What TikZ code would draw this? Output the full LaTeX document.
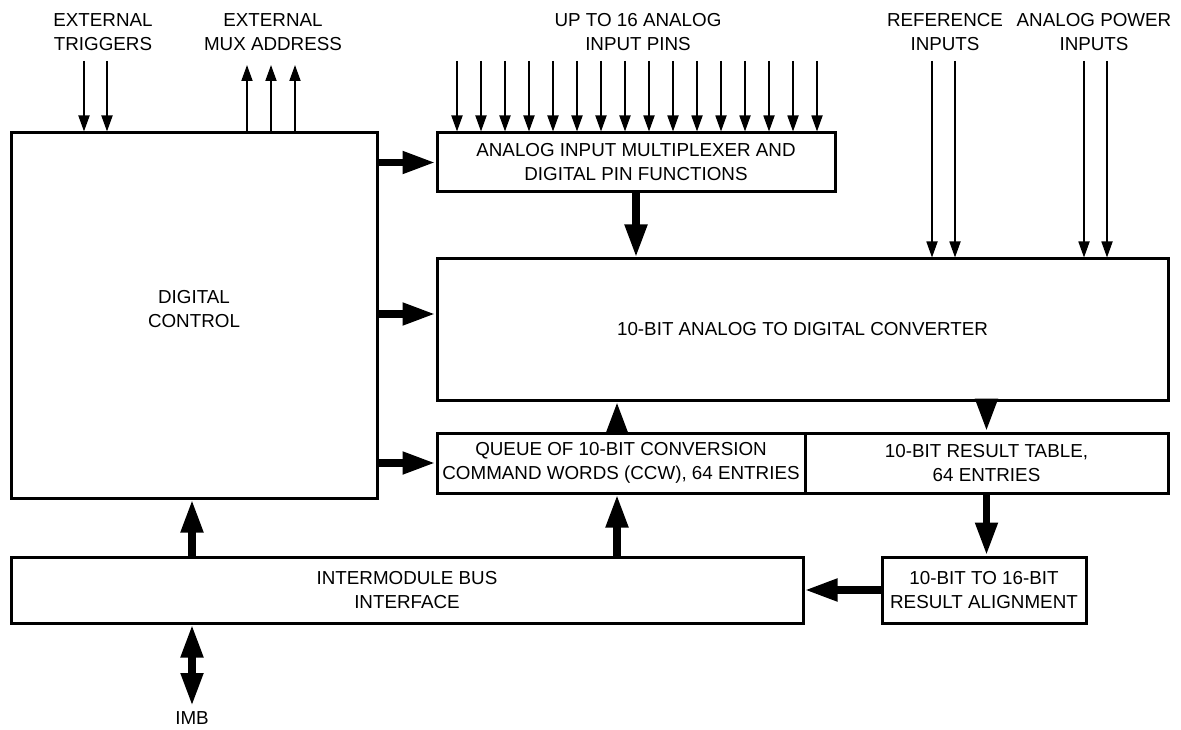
\documentclass[tikz,border=0pt]{standalone}
\usepackage{fontspec}
\setmainfont{Liberation Sans}
\usetikzlibrary{arrows.meta,calc}
\begin{document}
\begin{tikzpicture}[x=1pt,y=-1pt,
  box/.style={draw,line width=3pt,inner sep=0pt,align=center,font=\fontsize{18.8}{24}\selectfont},
  lbl/.style={inner sep=0pt,align=center,font=\fontsize{18.8}{24}\selectfont},
  thinarr/.style={line width=1.8pt,-{Triangle[length=16pt,width=11pt]}},
  big/.style={line width=7.5pt,-{Triangle[length=33pt,width=21pt]}},
  bigboth/.style={line width=7.5pt,{Triangle[length=33pt,width=21pt]}-{Triangle[length=33pt,width=21pt]}},
]
\useasboundingbox (0,0) rectangle (1181,730);
% boxes
\node[box,minimum width=366pt,minimum height=365pt] (dc) at (194,315.5) {};
\node[lbl] (dctext) at (194,309) {DIGITAL\\CONTROL};
\node[box,minimum width=398pt,minimum height=59pt] (mux) at (636,162.5) {ANALOG INPUT MULTIPLEXER AND\\DIGITAL PIN FUNCTIONS};
\node[box,minimum width=731pt,minimum height=141pt] (adc) at (802.5,329.5) {10-BIT ANALOG TO DIGITAL CONVERTER};
\node[box,minimum width=368pt,minimum height=60pt] (queue) at (621,463) {QUEUE OF 10-BIT CONVERSION\\COMMAND WORDS (CCW), 64 ENTRIES};
\node[box,minimum width=363pt,minimum height=60pt] (result) at (986.5,463) {10-BIT RESULT TABLE,\\64 ENTRIES};
\node[box,minimum width=792pt,minimum height=66pt] (bus) at (407,590) {INTERMODULE BUS\\INTERFACE};
\node[box,minimum width=204pt,minimum height=66pt] (align) at (984,590) {10-BIT TO 16-BIT\\RESULT ALIGNMENT};
% labels
\node[lbl] (ltrig) at (103,32) {EXTERNAL\\TRIGGERS};
\node[lbl] (lmux) at (273,32) {EXTERNAL\\MUX ADDRESS};
\node[lbl] (lpins) at (638,32) {UP TO 16 ANALOG\\INPUT PINS};
\node[lbl] (lref) at (945,32) {REFERENCE\\INPUTS};
\node[lbl] (lpow) at (1094,32) {ANALOG POWER\\INPUTS};
\node[lbl] (imb) at (192,718) {IMB};
\coordinate (imbtip) at (192,706);
% thin arrows
\foreach \x in {84,107} \draw[thinarr] (\x,61) -- (\x,0 |- dc.north);
\foreach \x in {247,271,295} \draw[thinarr] (\x,0 |- dc.north) -- (\x,65);
\foreach \i in {0,...,15} \draw[thinarr] ({457+24*\i},61) -- ({457+24*\i},0 |- mux.north);
\foreach \x in {932,955,1084,1107} \draw[thinarr] (\x,61) -- (\x,0 |- adc.north);
% thick arrows
\draw[big] (dc.east |- mux.west) -- (mux.west);
\draw[big] (dc.east |- 0,314) -- (adc.west |- 0,314);
\draw[big] (dc.east |- queue.west) -- (queue.west);
\draw[big] (mux.south) -- (mux.south |- adc.north);
\draw[big] ([xshift=-4pt]queue.north) -- ([xshift=-4pt]queue.north |- adc.south);
\draw[big] ([xshift=-4pt]queue.south |- bus.north) -- ([xshift=-4pt]queue.south);
\draw[big] (imbtip |- bus.north) -- (imbtip |- dc.south);
\draw[bigboth] (imbtip |- bus.south) -- (imbtip);
\draw[big] (result.north |- adc.south) -- (result.north);
\draw[big] (result.south) -- (result.south |- align.north);
\draw[big] (align.west) -- (bus.east);
\end{tikzpicture}
\end{document}
